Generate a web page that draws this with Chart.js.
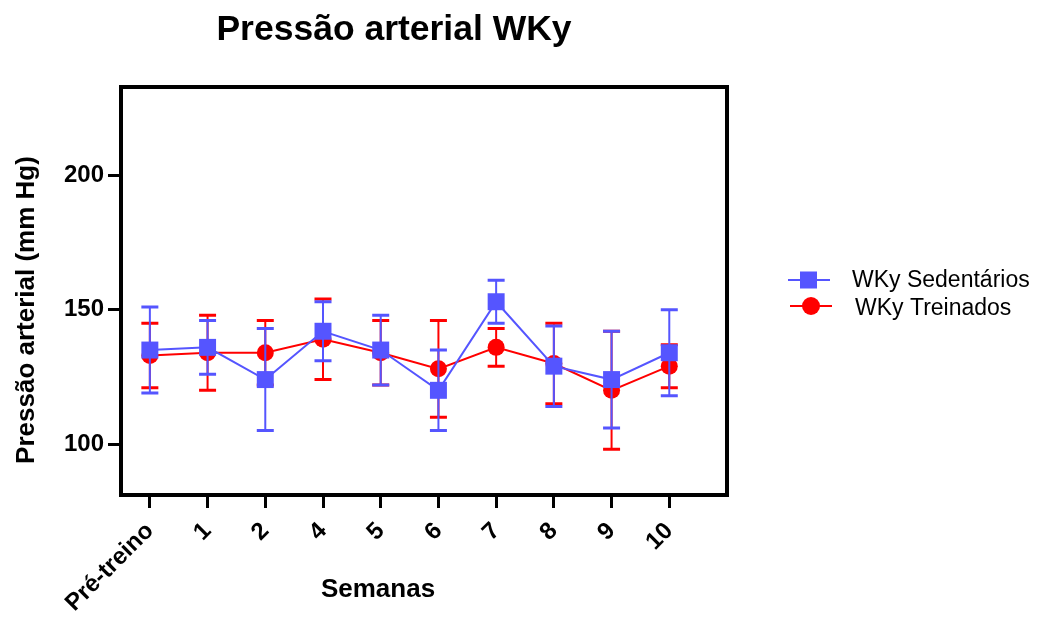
<!DOCTYPE html>
<html>
<head>
<meta charset="utf-8">
<script src="https://cdn.jsdelivr.net/npm/chart.js@4.4.0/dist/chart.umd.min.js"></script>
<style>
  body { margin: 0; background: #fff; }
  #wrap { width: 1060px; height: 617px; }
</style>
</head>
<body>
<div id="wrap"><canvas id="bpChart" width="1060" height="617"></canvas></div>
<script>
// Semanas (eixo x)
const weekLabels = ['Pré-treino', '1', '2', '4', '5', '6', '7', '8', '9', '10'];
const yTicks = [100, 150, 200];

// WKy Sedentários: média e limites da barra de erro
const sedMean  = [135, 136, 124, 142, 135, 120, 153, 129, 124, 134];
const sedUpper = [151, 146, 143, 153, 148, 135, 161, 144, 142, 150];
const sedLower = [119, 126, 105, 131, 122, 105, 145, 114, 106, 118];

// WKy Treinados
const trnMean  = [133, 134, 134, 139, 134, 128, 136, 130, 120, 129];
const trnUpper = [145, 148, 146, 154, 146, 146, 143, 145, 142, 137];
const trnLower = [121, 120, 122, 124, 122, 110, 129, 115, 98, 121];

const BLUE = '#5555ff';
const RED = '#ff0000';
const FONT = "'Liberation Sans', Arial, sans-serif";

function toPoints(arr) {
    return arr.map((v, i) => ({ x: i, y: v }));
}

// error bars drawn just under each dataset
const errorBars = {
    id: 'errorBars',
    beforeDatasetDraw(chart, args) {
        const ds = chart.data.datasets[args.index];
        const xs = chart.scales.x, ys = chart.scales.y;
        const ctx = chart.ctx;
        ctx.save();
        ctx.strokeStyle = ds.borderColor;
        ds.upper.forEach((hi, i) => {
            const px = xs.getPixelForValue(i);
            const top = ys.getPixelForValue(hi);
            const bot = ys.getPixelForValue(ds.lower[i]);
            ctx.lineWidth = 2;
            ctx.beginPath();
            ctx.moveTo(px, top);
            ctx.lineTo(px, bot);
            ctx.stroke();
            ctx.lineWidth = 3;
            ctx.beginPath();
            ctx.moveTo(px - 8.5, top);
            ctx.lineTo(px + 8.5, top);
            ctx.moveTo(px - 8.5, bot);
            ctx.lineTo(px + 8.5, bot);
            ctx.stroke();
        });
        ctx.restore();
    }
};

// frame, titles and legend
const decorations = {
    id: 'decorations',
    afterDraw(chart) {
        const ctx = chart.ctx;
        const a = chart.chartArea;
        ctx.save();
        ctx.strokeStyle = '#000';
        ctx.lineWidth = 4;
        ctx.strokeRect(a.left, a.top, a.right - a.left, a.bottom - a.top);

        ctx.fillStyle = '#000';
        ctx.textAlign = 'center';
        ctx.textBaseline = 'alphabetic';
        ctx.font = 'bold 35.5px ' + FONT;
        ctx.fillText('Pressão arterial WKy', 394, 40);

        ctx.font = 'bold 26px ' + FONT;
        ctx.fillText('Semanas', 378, 597);

        ctx.save();
        ctx.translate(34, 310);
        ctx.rotate(-Math.PI / 2);
        ctx.fillText('Pressão arterial (mm Hg)', 0, 0);
        ctx.restore();

        // legend
        ctx.textAlign = 'left';
        ctx.font = '23px ' + FONT;
        ctx.lineWidth = 2;
        ctx.strokeStyle = BLUE;
        ctx.beginPath();
        ctx.moveTo(788, 280);
        ctx.lineTo(830, 280);
        ctx.stroke();
        ctx.fillStyle = BLUE;
        ctx.fillRect(800, 271.5, 17, 17);
        ctx.fillStyle = '#000';
        ctx.fillText('WKy Sedentários', 852, 287);

        ctx.strokeStyle = RED;
        ctx.beginPath();
        ctx.moveTo(790, 306);
        ctx.lineTo(832, 306);
        ctx.stroke();
        ctx.fillStyle = RED;
        ctx.beginPath();
        ctx.arc(811, 306, 9, 0, Math.PI * 2);
        ctx.fill();
        ctx.fillStyle = '#000';
        ctx.fillText('WKy Treinados', 855, 315);
        ctx.restore();
    }
};

document.addEventListener('DOMContentLoaded', function () {
    const ctx = document.getElementById('bpChart').getContext('2d');
    new Chart(ctx, {
        type: 'line',
        data: {
            datasets: [{
                label: 'WKy Sedentários',
                data: toPoints(sedMean),
                upper: sedUpper,
                lower: sedLower,
                borderColor: BLUE,
                backgroundColor: BLUE,
                borderWidth: 2,
                pointStyle: 'rect',
                pointRadius: 12,
                pointBorderWidth: 0
            }, {
                label: 'WKy Treinados',
                data: toPoints(trnMean),
                upper: trnUpper,
                lower: trnLower,
                borderColor: RED,
                backgroundColor: RED,
                borderWidth: 2,
                pointStyle: 'circle',
                pointRadius: 8.5,
                pointBorderWidth: 0
            }]
        },
        options: {
            responsive: false,
            animation: false,
            layout: {
                padding: { top: 87, right: 333, left: 0, bottom: 0 }
            },
            scales: {
                x: {
                    type: 'linear',
                    min: -0.5,
                    max: 10,
                    afterBuildTicks: scale => {
                        scale.ticks = weekLabels.map((_, i) => ({ value: i }));
                    },
                    afterFit: scale => { scale.height = 122; },
                    grid: {
                        display: true,
                        drawOnChartArea: false,
                        drawTicks: true,
                        tickLength: 13,
                        tickWidth: 3,
                        tickColor: '#000'
                    },
                    border: { display: false },
                    ticks: {
                        autoSkip: false,
                        maxRotation: 45,
                        minRotation: 45,
                        padding: 9,
                        color: '#000',
                        font: { family: FONT, size: 24, weight: 'bold' },
                        callback: value => weekLabels[value]
                    }
                },
                y: {
                    min: 81,
                    max: 233,
                    afterBuildTicks: scale => {
                        scale.ticks = yTicks.map(v => ({ value: v }));
                    },
                    afterFit: scale => { scale.width = 121; },
                    grid: {
                        display: true,
                        drawOnChartArea: false,
                        drawTicks: true,
                        tickLength: 13,
                        tickWidth: 3,
                        tickColor: '#000'
                    },
                    border: { display: false },
                    ticks: {
                        padding: 4,
                        color: '#000',
                        font: { family: FONT, size: 24, weight: 'bold' }
                    }
                }
            },
            plugins: {
                legend: { display: false },
                tooltip: { enabled: false },
                title: { display: false }
            }
        },
        plugins: [errorBars, decorations]
    });
});
</script>
</body>
</html>
